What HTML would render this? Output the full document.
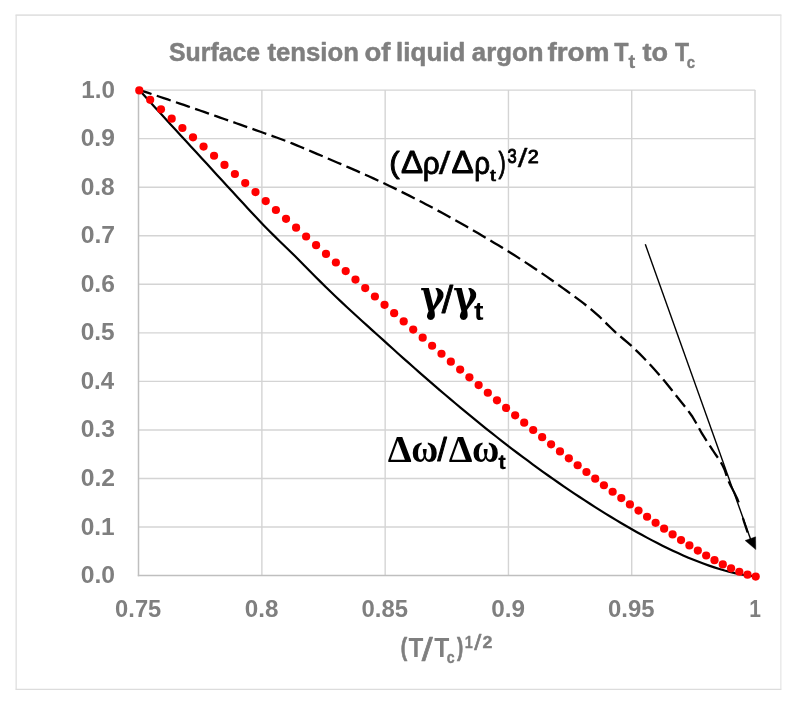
<!DOCTYPE html>
<html lang="en"><head><meta charset="utf-8"><title>Surface tension of liquid argon</title>
<style>html,body{margin:0;padding:0;background:#fff}svg{display:block}text{white-space:pre}</style></head>
<body>
<svg width="798" height="708" viewBox="0 0 798 708" role="img" aria-label="Surface tension of liquid argon chart">
<rect x="0" y="0" width="798" height="708" fill="#fff"/>
<g fill="none">
<line x1="15.5" x2="781.4" y1="15.2" y2="15.2" stroke="#e2e2e2" stroke-width="1.7"/>
<line x1="15.5" x2="781.4" y1="689.3" y2="689.3" stroke="#dcdcdc" stroke-width="1.2"/>
<line x1="16.15" x2="16.15" y1="15.2" y2="689.3" stroke="#dcdcdc" stroke-width="1.2"/>
<line x1="780.85" x2="780.85" y1="15.2" y2="689.3" stroke="#e4e4e4" stroke-width="1.2"/>
</g>
<line x1="138.6" x2="755.2" y1="90.10" y2="90.10" stroke="#d4d4d4" stroke-width="1.4"/>
<line x1="138.6" x2="755.2" y1="138.65" y2="138.65" stroke="#d4d4d4" stroke-width="1.4"/>
<line x1="138.6" x2="755.2" y1="187.20" y2="187.20" stroke="#d4d4d4" stroke-width="1.4"/>
<line x1="138.6" x2="755.2" y1="235.75" y2="235.75" stroke="#d4d4d4" stroke-width="1.4"/>
<line x1="138.6" x2="755.2" y1="284.30" y2="284.30" stroke="#d4d4d4" stroke-width="1.4"/>
<line x1="138.6" x2="755.2" y1="332.85" y2="332.85" stroke="#d4d4d4" stroke-width="1.4"/>
<line x1="138.6" x2="755.2" y1="381.40" y2="381.40" stroke="#d4d4d4" stroke-width="1.4"/>
<line x1="138.6" x2="755.2" y1="429.95" y2="429.95" stroke="#d4d4d4" stroke-width="1.4"/>
<line x1="138.6" x2="755.2" y1="478.50" y2="478.50" stroke="#d4d4d4" stroke-width="1.4"/>
<line x1="138.6" x2="755.2" y1="527.05" y2="527.05" stroke="#d4d4d4" stroke-width="1.4"/>
<line x1="261.88" x2="261.88" y1="90.1" y2="575.6" stroke="#d4d4d4" stroke-width="1.4"/>
<line x1="385.16" x2="385.16" y1="90.1" y2="575.6" stroke="#d4d4d4" stroke-width="1.4"/>
<line x1="508.44" x2="508.44" y1="90.1" y2="575.6" stroke="#d4d4d4" stroke-width="1.4"/>
<line x1="631.72" x2="631.72" y1="90.1" y2="575.6" stroke="#d4d4d4" stroke-width="1.4"/>
<line x1="755.00" x2="755.00" y1="90.1" y2="575.6" stroke="#d4d4d4" stroke-width="1.4"/>
<line x1="138.5" x2="138.5" y1="90.1" y2="576.3" stroke="#bfbfbf" stroke-width="1.5"/>
<line x1="137.8" x2="755.9" y1="575.6" y2="575.6" stroke="#bfbfbf" stroke-width="1.5"/>
<path d="M139.50,90.00 L143.53,91.34 L147.56,92.68 L151.60,94.03 L155.63,95.38 L159.66,96.73 L163.69,98.09 L167.73,99.46 L171.76,100.83 L175.79,102.20 L179.82,103.58 L183.86,104.96 L187.89,106.34 L191.92,107.73 L195.95,109.12 L199.99,110.52 L204.02,111.92 L208.05,113.32 L212.08,114.72 L216.12,116.13 L220.15,117.54 L224.18,118.96 L228.21,120.37 L232.24,121.79 L236.28,123.21 L240.31,124.64 L244.34,126.06 L248.37,127.49 L252.41,128.92 L256.44,130.35 L260.47,131.78 L264.50,133.22 L268.54,134.65 L272.57,136.08 L276.60,137.53 L280.63,139.01 L284.67,140.53 L288.70,142.09 L292.73,143.69 L296.76,145.33 L300.79,146.99 L304.83,148.68 L308.86,150.38 L312.89,152.10 L316.92,153.83 L320.96,155.55 L324.99,157.28 L329.02,159.00 L333.05,160.72 L337.09,162.45 L341.12,164.18 L345.15,165.91 L349.18,167.66 L353.22,169.41 L357.25,171.17 L361.28,172.95 L365.31,174.75 L369.35,176.56 L373.38,178.39 L377.41,180.25 L381.44,182.12 L385.47,184.03 L389.51,185.95 L393.54,187.90 L397.57,189.87 L401.60,191.86 L405.64,193.87 L409.67,195.90 L413.70,197.95 L417.73,200.02 L421.77,202.10 L425.80,204.21 L429.83,206.33 L433.86,208.47 L437.90,210.63 L441.93,212.80 L445.96,215.00 L449.99,217.20 L454.03,219.43 L458.06,221.69 L462.09,223.96 L466.12,226.26 L470.15,228.58 L474.19,230.92 L478.22,233.28 L482.25,235.66 L486.28,238.06 L490.32,240.47 L494.35,242.90 L498.38,245.35 L502.41,247.81 L506.45,250.29 L510.48,252.79 L514.51,255.32 L518.54,257.88 L522.58,260.48 L526.61,263.11 L530.64,265.76 L534.67,268.44 L538.71,271.15 L542.74,273.89 L546.77,276.66 L550.80,279.48 L554.83,282.33 L558.87,285.23 L562.90,288.12 L566.93,291.02 L570.96,293.93 L575.00,296.88 L579.03,299.89 L583.06,302.96 L587.09,306.12 L591.13,309.39 L595.16,312.78 L599.19,316.43 L603.22,320.32 L607.26,324.31 L611.29,328.27 L615.32,332.08 L619.35,335.63 L623.38,339.00 L627.42,342.37 L631.45,345.91 L635.48,349.72 L639.51,353.67 L643.55,357.77 L647.58,361.99 L651.61,366.32 L655.64,370.77 L659.68,375.33 L663.71,380.09 L667.74,385.02 L671.77,390.07 L675.81,395.17 L679.84,400.25 L683.87,405.23 L687.90,410.37 L691.94,416.00 L695.97,422.70 L700.00,430.05 L700.95,431.74 L701.90,433.36 L702.84,434.93 L703.79,436.45 L704.74,437.94 L705.69,439.42 L706.64,440.87 L707.59,442.31 L708.53,443.75 L709.48,445.18 L710.43,446.62 L711.38,448.06 L712.33,449.52 L713.28,451.00 L714.22,452.47 L715.17,453.88 L716.12,455.26 L717.07,456.62 L718.02,458.00 L718.97,459.40 L719.91,460.86 L720.86,462.40 L721.81,464.03 L722.76,465.79 L723.71,467.69 L724.66,469.91 L725.60,472.62 L726.55,475.57 L727.50,478.46" fill="none" stroke="#000" stroke-width="2.3" stroke-dasharray="14.7 5.55" stroke-dashoffset="2.05"/>
<path d="M728.60,481.40 L730.04,484.52 L731.49,487.29 L732.93,489.98 L734.37,492.86 L735.81,495.77 L737.26,498.81 L738.70,502.40 M742.90,518.00 L744.08,521.80 L745.25,525.36 L746.42,528.87 L747.60,532.50" fill="none" stroke="#000" stroke-width="2.2"/>
<path d="M139.30,90.00 L144.48,95.73 L149.66,101.45 L154.84,107.15 L160.02,112.84 L165.20,118.51 L170.38,124.17 L175.56,129.82 L180.74,135.46 L185.92,141.09 L191.10,146.70 L196.28,152.33 L201.46,157.96 L206.64,163.59 L211.82,169.24 L217.00,174.89 L222.18,180.54 L227.36,186.19 L232.54,191.83 L237.72,197.46 L242.90,203.07 L248.08,208.66 L253.26,214.21 L258.44,219.72 L263.62,225.18 L268.80,230.49 L273.98,235.65 L279.16,240.70 L284.34,245.71 L289.52,250.71 L294.69,255.79 L299.87,261.00 L305.05,266.25 L310.23,271.47 L315.41,276.68 L320.59,281.85 L325.77,286.96 L330.95,291.99 L336.13,296.95 L341.31,301.84 L346.49,306.68 L351.67,311.47 L356.85,316.22 L362.03,320.94 L367.21,325.63 L372.39,330.31 L377.57,334.99 L382.75,339.67 L387.93,344.36 L393.11,349.04 L398.29,353.70 L403.47,358.33 L408.65,362.94 L413.83,367.53 L419.01,372.09 L424.19,376.62 L429.37,381.13 L434.55,385.62 L439.73,390.07 L444.91,394.50 L450.09,398.90 L455.27,403.26 L460.45,407.60 L465.63,411.91 L470.81,416.18 L475.99,420.41 L481.17,424.62 L486.35,428.79 L491.53,432.92 L496.71,437.01 L501.89,441.07 L507.07,445.09 L512.25,449.06 L517.43,453.00 L522.61,456.89 L527.79,460.74 L532.97,464.55 L538.15,468.32 L543.33,472.05 L548.51,475.73 L553.69,479.38 L558.87,482.98 L564.05,486.55 L569.23,490.07 L574.41,493.55 L579.59,497.00 L584.77,500.39 L589.95,503.75 L595.13,507.07 L600.31,510.34 L605.48,513.57 L610.66,516.75 L615.84,519.88 L621.02,522.97 L626.20,526.01 L631.38,529.00 L636.56,531.94 L641.74,534.82 L646.92,537.63 L652.10,540.38 L657.28,543.07 L662.46,545.69 L667.64,548.23 L672.82,550.71 L678.00,553.10 L683.18,555.41 L688.36,557.64 L693.54,559.79 L698.72,561.84 L703.90,563.79 L709.08,565.65 L714.26,567.40 L719.44,569.03 L724.62,570.55 L729.80,571.93 L734.98,573.18 L740.16,574.26 L745.34,575.17 L750.52,575.85 L755.70,576.20" fill="none" stroke="#000" stroke-width="2.2" stroke-linejoin="round"/>
<g fill="#ff0000"><circle cx="139.30" cy="90.40" r="4.1"/><circle cx="150.16" cy="99.86" r="4.1"/><circle cx="160.97" cy="109.28" r="4.1"/><circle cx="171.70" cy="118.66" r="4.1"/><circle cx="182.38" cy="127.99" r="4.1"/><circle cx="193.00" cy="137.28" r="4.1"/><circle cx="203.56" cy="146.53" r="4.1"/><circle cx="214.06" cy="155.73" r="4.1"/><circle cx="224.50" cy="164.89" r="4.1"/><circle cx="234.89" cy="174.00" r="4.1"/><circle cx="245.23" cy="183.07" r="4.1"/><circle cx="255.50" cy="192.09" r="4.1"/><circle cx="265.73" cy="201.06" r="4.1"/><circle cx="275.90" cy="209.99" r="4.1"/><circle cx="286.02" cy="218.87" r="4.1"/><circle cx="296.09" cy="227.70" r="4.1"/><circle cx="306.11" cy="236.48" r="4.1"/><circle cx="316.08" cy="245.21" r="4.1"/><circle cx="326.00" cy="253.88" r="4.1"/><circle cx="335.88" cy="262.51" r="4.1"/><circle cx="345.70" cy="271.09" r="4.1"/><circle cx="355.48" cy="279.61" r="4.1"/><circle cx="365.21" cy="288.07" r="4.1"/><circle cx="374.90" cy="296.49" r="4.1"/><circle cx="384.54" cy="304.84" r="4.1"/><circle cx="394.14" cy="313.14" r="4.1"/><circle cx="403.69" cy="321.38" r="4.1"/><circle cx="413.21" cy="329.56" r="4.1"/><circle cx="422.67" cy="337.69" r="4.1"/><circle cx="432.10" cy="345.75" r="4.1"/><circle cx="441.49" cy="353.74" r="4.1"/><circle cx="450.83" cy="361.68" r="4.1"/><circle cx="460.14" cy="369.55" r="4.1"/><circle cx="469.40" cy="377.35" r="4.1"/><circle cx="478.63" cy="385.09" r="4.1"/><circle cx="487.82" cy="392.76" r="4.1"/><circle cx="496.97" cy="400.35" r="4.1"/><circle cx="506.08" cy="407.88" r="4.1"/><circle cx="515.15" cy="415.33" r="4.1"/><circle cx="524.19" cy="422.70" r="4.1"/><circle cx="533.19" cy="430.00" r="4.1"/><circle cx="542.15" cy="437.22" r="4.1"/><circle cx="551.08" cy="444.35" r="4.1"/><circle cx="559.98" cy="451.40" r="4.1"/><circle cx="568.84" cy="458.36" r="4.1"/><circle cx="577.66" cy="465.23" r="4.1"/><circle cx="586.45" cy="472.01" r="4.1"/><circle cx="595.21" cy="478.69" r="4.1"/><circle cx="603.93" cy="485.27" r="4.1"/><circle cx="612.63" cy="491.75" r="4.1"/><circle cx="621.28" cy="498.12" r="4.1"/><circle cx="629.91" cy="504.38" r="4.1"/><circle cx="638.51" cy="510.60" r="4.1"/><circle cx="647.07" cy="516.75" r="4.1"/><circle cx="655.60" cy="522.80" r="4.1"/><circle cx="664.11" cy="528.71" r="4.1"/><circle cx="672.58" cy="534.46" r="4.1"/><circle cx="681.02" cy="540.05" r="4.1"/><circle cx="689.43" cy="545.43" r="4.1"/><circle cx="697.82" cy="550.60" r="4.1"/><circle cx="706.17" cy="555.51" r="4.1"/><circle cx="714.50" cy="560.14" r="4.1"/><circle cx="722.79" cy="564.45" r="4.1"/><circle cx="731.06" cy="568.30" r="4.1"/><circle cx="739.30" cy="571.74" r="4.1"/><circle cx="747.51" cy="574.65" r="4.1"/><circle cx="755.70" cy="576.60" r="4.1"/></g>
<line x1="645.3" y1="244.3" x2="750.6" y2="539.2" stroke="#000" stroke-width="1.4"/>
<polygon points="755.8,549.6 745.1,540.5 755.6,536.8" fill="#000" stroke="#000" stroke-width="0.4" stroke-linejoin="round"/>
<text x="169.03" y="61.35" font-family="'Liberation Sans', sans-serif" font-weight="bold" font-size="26.47" fill="#7f7f7f" stroke="#7f7f7f" stroke-width="0.5" stroke-linejoin="round" textLength="91.10" lengthAdjust="spacingAndGlyphs">Surface</text>
<text x="267.43" y="61.35" font-family="'Liberation Sans', sans-serif" font-weight="bold" font-size="26.47" fill="#7f7f7f" stroke="#7f7f7f" stroke-width="0.5" stroke-linejoin="round" textLength="91.57" lengthAdjust="spacingAndGlyphs">tension</text>
<text x="364.42" y="61.35" font-family="'Liberation Sans', sans-serif" font-weight="bold" font-size="26.47" fill="#7f7f7f" stroke="#7f7f7f" stroke-width="0.5" stroke-linejoin="round" textLength="25.98" lengthAdjust="spacingAndGlyphs">of</text>
<text x="396.11" y="61.35" font-family="'Liberation Sans', sans-serif" font-weight="bold" font-size="26.47" fill="#7f7f7f" stroke="#7f7f7f" stroke-width="0.5" stroke-linejoin="round" textLength="69.36" lengthAdjust="spacingAndGlyphs">liquid</text>
<text x="471.80" y="61.35" font-family="'Liberation Sans', sans-serif" font-weight="bold" font-size="26.47" fill="#7f7f7f" stroke="#7f7f7f" stroke-width="0.5" stroke-linejoin="round" textLength="71.63" lengthAdjust="spacingAndGlyphs">argon</text>
<text x="547.49" y="61.35" font-family="'Liberation Sans', sans-serif" font-weight="bold" font-size="26.47" fill="#7f7f7f" stroke="#7f7f7f" stroke-width="0.5" stroke-linejoin="round" textLength="61.93" lengthAdjust="spacingAndGlyphs">from</text>
<text x="614.36" y="61.35" font-family="'Liberation Sans', sans-serif" font-weight="bold" font-size="26.47" fill="#7f7f7f" stroke="#7f7f7f" stroke-width="0.5" stroke-linejoin="round" textLength="14.25" lengthAdjust="spacingAndGlyphs">T</text>
<text x="642.51" y="61.35" font-family="'Liberation Sans', sans-serif" font-weight="bold" font-size="26.47" fill="#7f7f7f" stroke="#7f7f7f" stroke-width="0.5" stroke-linejoin="round" textLength="25.51" lengthAdjust="spacingAndGlyphs">to</text>
<text x="675.06" y="61.35" font-family="'Liberation Sans', sans-serif" font-weight="bold" font-size="26.47" fill="#7f7f7f" stroke="#7f7f7f" stroke-width="0.5" stroke-linejoin="round" textLength="14.04" lengthAdjust="spacingAndGlyphs">T</text>
<text x="628.50" y="67.80" font-family="'Liberation Sans', sans-serif" font-weight="bold" font-size="18.23" fill="#7f7f7f" stroke="#7f7f7f" stroke-width="0.3" stroke-linejoin="round" textLength="6.70" lengthAdjust="spacingAndGlyphs">t</text>
<text x="686.74" y="67.96" font-family="'Liberation Sans', sans-serif" font-weight="bold" font-size="17.22" fill="#7f7f7f" stroke="#7f7f7f" stroke-width="0.4" stroke-linejoin="round" textLength="8.33" lengthAdjust="spacingAndGlyphs">c</text>
<text x="81.29" y="97.55" font-family="'Liberation Sans', sans-serif" font-weight="bold" font-size="23.32" fill="#7f7f7f" textLength="33.69" lengthAdjust="spacingAndGlyphs">1.0</text>
<text x="80.67" y="146.11" font-family="'Liberation Sans', sans-serif" font-weight="bold" font-size="23.32" fill="#7f7f7f" textLength="34.21" lengthAdjust="spacingAndGlyphs">0.9</text>
<text x="80.68" y="194.67" font-family="'Liberation Sans', sans-serif" font-weight="bold" font-size="23.32" fill="#7f7f7f" textLength="34.10" lengthAdjust="spacingAndGlyphs">0.8</text>
<text x="80.67" y="243.23" font-family="'Liberation Sans', sans-serif" font-weight="bold" font-size="23.32" fill="#7f7f7f" textLength="34.43" lengthAdjust="spacingAndGlyphs">0.7</text>
<text x="80.67" y="291.79" font-family="'Liberation Sans', sans-serif" font-weight="bold" font-size="23.32" fill="#7f7f7f" textLength="34.21" lengthAdjust="spacingAndGlyphs">0.6</text>
<text x="80.68" y="340.35" font-family="'Liberation Sans', sans-serif" font-weight="bold" font-size="23.32" fill="#7f7f7f" textLength="34.00" lengthAdjust="spacingAndGlyphs">0.5</text>
<text x="80.70" y="388.91" font-family="'Liberation Sans', sans-serif" font-weight="bold" font-size="23.32" fill="#7f7f7f" textLength="33.47" lengthAdjust="spacingAndGlyphs">0.4</text>
<text x="80.67" y="437.47" font-family="'Liberation Sans', sans-serif" font-weight="bold" font-size="23.32" fill="#7f7f7f" textLength="34.21" lengthAdjust="spacingAndGlyphs">0.3</text>
<text x="80.67" y="486.03" font-family="'Liberation Sans', sans-serif" font-weight="bold" font-size="23.32" fill="#7f7f7f" textLength="34.32" lengthAdjust="spacingAndGlyphs">0.2</text>
<text x="80.68" y="534.59" font-family="'Liberation Sans', sans-serif" font-weight="bold" font-size="23.32" fill="#7f7f7f" textLength="34.00" lengthAdjust="spacingAndGlyphs">0.1</text>
<text x="80.67" y="583.15" font-family="'Liberation Sans', sans-serif" font-weight="bold" font-size="23.32" fill="#7f7f7f" textLength="34.32" lengthAdjust="spacingAndGlyphs">0.0</text>
<text x="115.11" y="617.40" font-family="'Liberation Sans', sans-serif" font-weight="bold" font-size="23.32" fill="#7f7f7f" textLength="46.19" lengthAdjust="spacingAndGlyphs">0.75</text>
<text x="244.72" y="617.40" font-family="'Liberation Sans', sans-serif" font-weight="bold" font-size="23.32" fill="#7f7f7f" textLength="33.68" lengthAdjust="spacingAndGlyphs">0.8</text>
<text x="361.51" y="617.40" font-family="'Liberation Sans', sans-serif" font-weight="bold" font-size="23.32" fill="#7f7f7f" textLength="46.50" lengthAdjust="spacingAndGlyphs">0.85</text>
<text x="491.28" y="617.40" font-family="'Liberation Sans', sans-serif" font-weight="bold" font-size="23.32" fill="#7f7f7f" textLength="33.79" lengthAdjust="spacingAndGlyphs">0.9</text>
<text x="608.07" y="617.40" font-family="'Liberation Sans', sans-serif" font-weight="bold" font-size="23.32" fill="#7f7f7f" textLength="46.50" lengthAdjust="spacingAndGlyphs">0.95</text>
<text x="749.19" y="617.40" font-family="'Liberation Sans', sans-serif" font-weight="bold" font-size="23.32" fill="#7f7f7f" textLength="11.68" lengthAdjust="spacingAndGlyphs">1</text>
<text x="400.78" y="655.98" font-family="'Liberation Sans', sans-serif" font-weight="bold" font-size="26.25" fill="#7f7f7f" stroke="#7f7f7f" stroke-width="0.7" stroke-linejoin="round" textLength="6.44" lengthAdjust="spacingAndGlyphs">(</text>
<text x="408.60" y="656.90" font-family="'Liberation Sans', sans-serif" font-weight="bold" font-size="26.76" fill="#7f7f7f" textLength="14.87" lengthAdjust="spacingAndGlyphs">T</text>
<text x="421.85" y="660.87" font-family="'Liberation Sans', sans-serif" font-weight="normal" font-size="33.95" fill="#7f7f7f" stroke="#7f7f7f" stroke-width="0.7" stroke-linejoin="round" textLength="10.95" lengthAdjust="spacingAndGlyphs">/</text>
<text x="434.19" y="656.90" font-family="'Liberation Sans', sans-serif" font-weight="bold" font-size="26.76" fill="#7f7f7f" textLength="15.08" lengthAdjust="spacingAndGlyphs">T</text>
<text x="446.67" y="663.37" font-family="'Liberation Sans', sans-serif" font-weight="bold" font-size="15.76" fill="#7f7f7f" stroke="#7f7f7f" stroke-width="0.4" stroke-linejoin="round" textLength="7.87" lengthAdjust="spacingAndGlyphs">c</text>
<text x="457.07" y="655.98" font-family="'Liberation Sans', sans-serif" font-weight="bold" font-size="26.25" fill="#7f7f7f" stroke="#7f7f7f" stroke-width="0.7" stroke-linejoin="round" textLength="6.20" lengthAdjust="spacingAndGlyphs">)</text>
<text x="464.84" y="648.25" font-family="'Liberation Sans', sans-serif" font-weight="bold" font-size="17.16" fill="#7f7f7f" stroke="#7f7f7f" stroke-width="0.3" stroke-linejoin="round" textLength="8.11" lengthAdjust="spacingAndGlyphs">1</text>
<text x="474.30" y="650.42" font-family="'Liberation Sans', sans-serif" font-weight="normal" font-size="21.95" fill="#7f7f7f" stroke="#7f7f7f" stroke-width="0.6" stroke-linejoin="round" textLength="7.07" lengthAdjust="spacingAndGlyphs">/</text>
<text x="482.61" y="648.30" font-family="'Liberation Sans', sans-serif" font-weight="bold" font-size="17.10" fill="#7f7f7f" stroke="#7f7f7f" stroke-width="0.4" stroke-linejoin="round" textLength="9.90" lengthAdjust="spacingAndGlyphs">2</text>
<text x="389.31" y="173.10" font-family="'Liberation Sans', sans-serif" font-weight="normal" font-size="30.37" fill="#000" stroke="#000" stroke-width="0.95" stroke-linejoin="round" textLength="10.47" lengthAdjust="spacingAndGlyphs">(</text>
<text x="401.01" y="173.12" font-family="'Liberation Sans', sans-serif" font-weight="normal" font-size="32.22" fill="#000" stroke="#000" stroke-width="0.95" stroke-linejoin="round" textLength="22.13" lengthAdjust="spacingAndGlyphs">Δ</text>
<text x="422.72" y="173.87" font-family="'Liberation Sans', sans-serif" font-weight="normal" font-size="31.44" fill="#000" stroke="#000" stroke-width="0.95" stroke-linejoin="round" textLength="16.89" lengthAdjust="spacingAndGlyphs">ρ</text>
<text x="438.75" y="173.88" font-family="'Liberation Sans', sans-serif" font-weight="normal" font-size="31.91" fill="#000" stroke="#000" stroke-width="0.3" stroke-linejoin="round" textLength="11.65" lengthAdjust="spacingAndGlyphs">/</text>
<text x="451.50" y="173.12" font-family="'Liberation Sans', sans-serif" font-weight="normal" font-size="32.22" fill="#000" stroke="#000" stroke-width="0.95" stroke-linejoin="round" textLength="22.24" lengthAdjust="spacingAndGlyphs">Δ</text>
<text x="474.14" y="173.87" font-family="'Liberation Sans', sans-serif" font-weight="normal" font-size="31.44" fill="#000" stroke="#000" stroke-width="0.95" stroke-linejoin="round" textLength="15.79" lengthAdjust="spacingAndGlyphs">ρ</text>
<text x="490.00" y="180.61" font-family="'Liberation Sans', sans-serif" font-weight="normal" font-size="17.27" fill="#000" stroke="#000" stroke-width="0.7" stroke-linejoin="round" textLength="5.90" lengthAdjust="spacingAndGlyphs">t</text>
<text x="498.59" y="172.54" font-family="'Liberation Sans', sans-serif" font-weight="normal" font-size="30.16" fill="#000" stroke="#000" stroke-width="0.95" stroke-linejoin="round" textLength="7.29" lengthAdjust="spacingAndGlyphs">)</text>
<text x="507.56" y="163.46" font-family="'Liberation Sans', sans-serif" font-weight="normal" font-size="19.38" fill="#000" stroke="#000" stroke-width="0.95" stroke-linejoin="round" textLength="9.19" lengthAdjust="spacingAndGlyphs">3</text>
<text x="517.75" y="166.54" font-family="'Liberation Sans', sans-serif" font-weight="normal" font-size="25.64" fill="#000" stroke="#000" stroke-width="0.3" stroke-linejoin="round" textLength="9.66" lengthAdjust="spacingAndGlyphs">/</text>
<text x="527.69" y="163.22" font-family="'Liberation Sans', sans-serif" font-weight="normal" font-size="19.04" fill="#000" stroke="#000" stroke-width="0.95" stroke-linejoin="round" textLength="10.96" lengthAdjust="spacingAndGlyphs">2</text>
<text x="420.27" y="311.09" font-family="'DejaVu Serif', 'Liberation Serif', serif" font-weight="bold" font-size="45.66" fill="#000" textLength="24.48" lengthAdjust="spacingAndGlyphs">γ</text>
<text x="441.65" y="313.32" font-family="'Liberation Sans', sans-serif" font-weight="normal" font-size="39.55" fill="#000" stroke="#000" stroke-width="0.9" stroke-linejoin="round" textLength="11.35" lengthAdjust="spacingAndGlyphs">/</text>
<text x="453.19" y="311.09" font-family="'DejaVu Serif', 'Liberation Serif', serif" font-weight="bold" font-size="45.66" fill="#000" textLength="24.15" lengthAdjust="spacingAndGlyphs">γ</text>
<text x="474.04" y="319.88" font-family="'Liberation Sans', sans-serif" font-weight="bold" font-size="26.58" fill="#000" textLength="9.50" lengthAdjust="spacingAndGlyphs">t</text>
<text x="387.82" y="461.80" font-family="'Liberation Serif', serif" font-weight="bold" font-size="38.73" fill="#000" textLength="23.99" lengthAdjust="spacingAndGlyphs">Δ</text>
<text x="411.36" y="462.06" font-family="'Liberation Serif', serif" font-weight="bold" font-size="40.28" fill="#000" textLength="26.99" lengthAdjust="spacingAndGlyphs">ω</text>
<text x="437.50" y="461.42" font-family="'Liberation Sans', sans-serif" font-weight="normal" font-size="33.27" fill="#000" stroke="#000" stroke-width="1.0" stroke-linejoin="round" textLength="9.26" lengthAdjust="spacingAndGlyphs">/</text>
<text x="448.73" y="461.80" font-family="'Liberation Serif', serif" font-weight="bold" font-size="38.73" fill="#000" textLength="23.78" lengthAdjust="spacingAndGlyphs">Δ</text>
<text x="472.04" y="462.06" font-family="'Liberation Serif', serif" font-weight="bold" font-size="40.28" fill="#000" textLength="27.33" lengthAdjust="spacingAndGlyphs">ω</text>
<text x="498.53" y="469.03" font-family="'Liberation Sans', sans-serif" font-weight="bold" font-size="20.96" fill="#000" stroke="#000" stroke-width="0.4" stroke-linejoin="round" textLength="7.13" lengthAdjust="spacingAndGlyphs">t</text>
</svg>
</body></html>
